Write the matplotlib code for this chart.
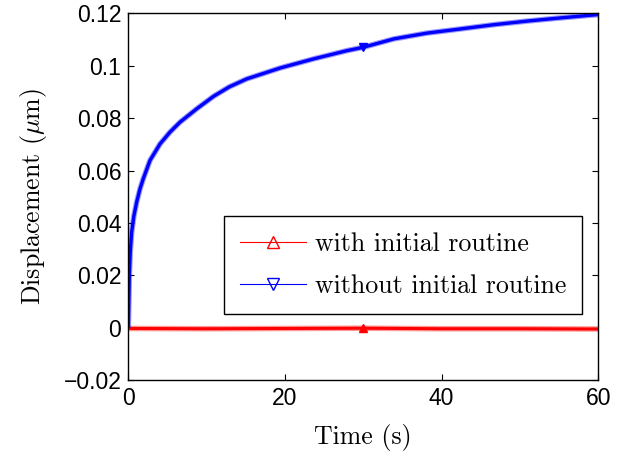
import matplotlib
matplotlib.use("Agg")
import matplotlib.pyplot as plt

# values
t_without = [0, 0.03, 0.13, 0.25, 0.43, 0.7, 1.07, 1.49, 1.91, 2.77, 4.05, 5.32, 6.6,
             8.73, 10.9, 12.9, 15.1, 19.4, 23.7, 27.9, 30.0, 33.9, 38.1, 42.4, 46.6,
             50.9, 55.1, 60.0]
d_without = [0, 0.004, 0.020, 0.029, 0.0365, 0.0425, 0.0480, 0.0530, 0.0569, 0.0639,
             0.0702, 0.0747, 0.0785, 0.0836, 0.0884, 0.0920, 0.0950, 0.0992, 0.1027,
             0.1058, 0.1071, 0.1103, 0.1125, 0.1141, 0.1157, 0.1171, 0.1183, 0.1196]

t_with = [0, 10, 20, 30, 40, 50, 60]
d_with = [-0.0003, -0.0004, -0.0003, -0.0002, -0.0004, -0.0004, -0.0005]

marker_t = 30.0
x_ticks = [0, 20, 40, 60]
y_ticks = [-0.02, 0, 0.02, 0.04, 0.06, 0.08, 0.1, 0.12]
y_ticklabels = ["\u22120.02", "0", "0.02", "0.04", "0.06", "0.08", "0.1", "0.12"]

plt.rcParams["mathtext.fontset"] = "cm"
plt.rcParams["font.family"] = ["Liberation Sans", "DejaVu Sans"]

fig = plt.figure(figsize=(6.33, 4.59), dpi=100)
ax = fig.add_axes([0.2027, 0.172, 0.7425, 0.7986])

# noisy band first, then the core line
ax.plot(t_with, d_with, color="red", lw=4.0, alpha=0.4, solid_capstyle="butt")
ax.plot(t_with, d_with, color="red", lw=2.2, solid_capstyle="butt")
ax.plot(t_without, d_without, color="blue", lw=4.0, alpha=0.4, solid_capstyle="butt")
ax.plot(t_without, d_without, color="blue", lw=2.4, solid_capstyle="butt")

# single markers at t = 30 s
ax.plot([marker_t], [d_with[t_with.index(marker_t)]], marker="^", color="red",
        ms=6, mfc="red", ls="none")
ax.plot([marker_t], [d_without[t_without.index(marker_t)]], marker="v", color="blue",
        ms=6, mfc="blue", ls="none")

# legend proxies
h1, = ax.plot([], [], color="red", lw=0.8, marker="^", mfc="none", ms=8, mew=1.0,
              label="with initial routine")
h2, = ax.plot([], [], color="blue", lw=0.8, marker="v", mfc="none", ms=8, mew=1.0,
              label="without initial routine")

ax.set_xlim(0, 60)
ax.set_ylim(-0.02, 0.12)
ax.set_xticks(x_ticks)
ax.set_xticklabels([str(v) for v in x_ticks])
ax.set_yticks(y_ticks)
ax.set_yticklabels(y_ticklabels)
ax.tick_params(direction="in", length=4, width=0.8, top=True, right=True,
               labelsize=16.5, pad=5)
for s in ax.spines.values():
    s.set_linewidth(1.0)

ax.set_xlabel("Time (s)", fontfamily="cmr10", fontsize=18.6, labelpad=10)
ax.set_ylabel(r"Displacement ($\mu$m)", fontfamily="cmr10", fontsize=18.6, labelpad=10.5)

leg = ax.legend(handles=[h1, h2], loc="upper left", bbox_to_anchor=(224 / 633, 1 - 216 / 459),
                bbox_transform=fig.transFigure, prop={"family": "cmr10", "size": 18.6},
                fancybox=False, framealpha=1, edgecolor="black", handlelength=2.54,
                borderpad=0.62, labelspacing=0.72, handletextpad=0.35, borderaxespad=0)
leg.get_frame().set_linewidth(1.0)

fig.savefig("out.png", dpi=100)
